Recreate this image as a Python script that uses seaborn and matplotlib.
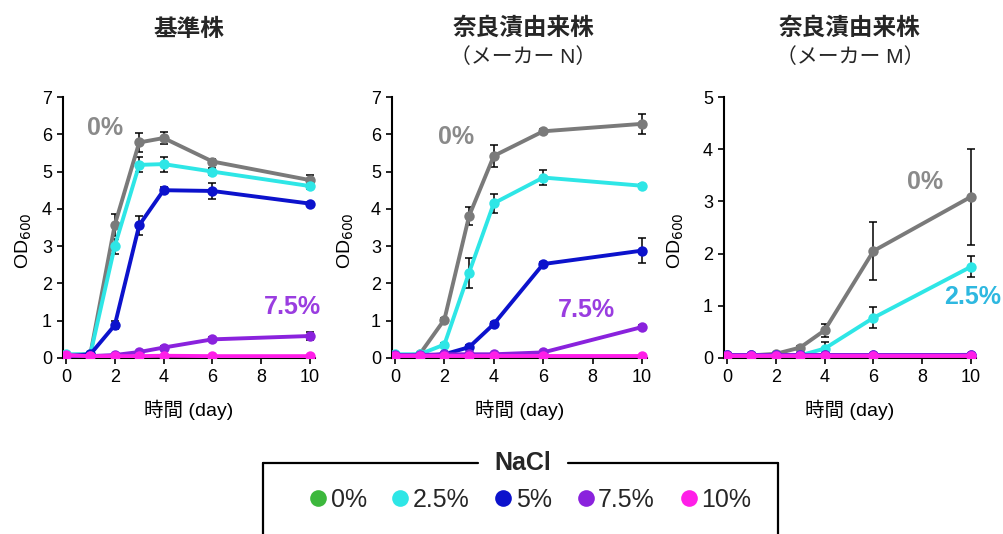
import numpy as np
import pandas as pd
import seaborn as sns
import matplotlib
matplotlib.use("Agg")
import matplotlib.pyplot as plt
from matplotlib.lines import Line2D

# Sampling times (days)
time_days = [0, 1, 2, 3, 4, 6, 10]
nacl_levels = ["0%", "2.5%", "5%", "7.5%", "10%"]

# --- Reference strain: mean OD600 and SD per NaCl level ---
ref_0 = [0.08, 0.10, 3.57, 5.78, 5.90, 5.27, 4.77]
ref_25 = [0.10, 0.10, 3.00, 5.18, 5.20, 5.00, 4.61]
ref_5 = [0.05, 0.10, 0.88, 3.56, 4.50, 4.48, 4.14]
ref_75 = [0.05, 0.05, 0.08, 0.16, 0.28, 0.50, 0.59]
ref_10 = [0.08, 0.05, 0.05, 0.05, 0.06, 0.05, 0.05]
ref_0_sd = [0, 0, 0.30, 0.25, 0.15, 0.08, 0.15]
ref_25_sd = [0, 0, 0.20, 0.20, 0.20, 0.10, 0.08]
ref_5_sd = [0, 0, 0.10, 0.25, 0.08, 0.22, 0.05]
ref_75_sd = [0, 0, 0, 0, 0.03, 0.05, 0.12]
ref_10_sd = [0, 0, 0, 0, 0, 0, 0]

# --- Narazuke isolate (maker N) ---
n_0 = [0.05, 0.10, 1.03, 3.81, 5.42, 6.08, 6.28]
n_25 = [0.10, 0.10, 0.36, 2.29, 4.15, 4.84, 4.62]
n_5 = [0.05, 0.05, 0.10, 0.29, 0.91, 2.52, 2.88]
n_75 = [0.08, 0.08, 0.10, 0.10, 0.10, 0.15, 0.83]
n_10 = [0.05, 0.05, 0.05, 0.05, 0.05, 0.05, 0.05]
n_0_sd = [0, 0, 0.05, 0.25, 0.30, 0.05, 0.27]
n_25_sd = [0, 0, 0.05, 0.40, 0.25, 0.20, 0.05]
n_5_sd = [0, 0, 0, 0.05, 0.05, 0.05, 0.33]
n_75_sd = [0, 0, 0, 0, 0, 0, 0.05]
n_10_sd = [0, 0, 0, 0, 0, 0, 0]

# --- Narazuke isolate (maker M) ---
m_0 = [0.05, 0.05, 0.08, 0.20, 0.53, 2.05, 3.09]
m_25 = [0.05, 0.05, 0.05, 0.05, 0.18, 0.77, 1.75]
m_5 = [0.05, 0.05, 0.05, 0.05, 0.05, 0.05, 0.06]
m_75 = [0.05, 0.05, 0.05, 0.05, 0.05, 0.05, 0.05]
m_10 = [0.04, 0.04, 0.04, 0.04, 0.04, 0.04, 0.04]
m_0_sd = [0, 0, 0, 0.03, 0.12, 0.55, 0.92]
m_25_sd = [0, 0, 0, 0, 0.12, 0.20, 0.20]
m_5_sd = [0, 0, 0, 0, 0, 0, 0]
m_75_sd = [0, 0, 0, 0, 0, 0, 0]
m_10_sd = [0, 0, 0, 0, 0, 0, 0]

panel_titles = ["基準株", "奈良漬由来株", "奈良漬由来株"]
panel_subtitles = ["", "（メーカー N）", "（メーカー M）"]
panel_ymax = [7, 7, 5]

panel_means = [
    [ref_0, ref_25, ref_5, ref_75, ref_10],
    [n_0, n_25, n_5, n_75, n_10],
    [m_0, m_25, m_5, m_75, m_10],
]
panel_sds = [
    [ref_0_sd, ref_25_sd, ref_5_sd, ref_75_sd, ref_10_sd],
    [n_0_sd, n_25_sd, n_5_sd, n_75_sd, n_10_sd],
    [m_0_sd, m_25_sd, m_5_sd, m_75_sd, m_10_sd],
]

# In-plot labels: (text, x, y, colour)
panel_notes = [
    [("0%", 1.6, 6.17, "#8a8a8a"), ("7.5%", 9.27, 1.37, "#9a3de0")],
    [("0%", 2.48, 5.93, "#8a8a8a"), ("7.5%", 7.76, 1.29, "#9a3de0")],
    [("0%", 8.1, 3.37, "#8a8a8a"), ("2.5%", 10.08, 1.17, "#2eb8e0")],
]

line_colors = ["#7a7a7a", "#2ee6e6", "#0c12cc", "#8a22dd", "#ff1ee8"]
legend_colors = ["#3cb83c", "#2ee6e6", "#0c12cc", "#8a22dd", "#ff1ee8"]

sns.set_theme(style="ticks")
plt.rcParams["font.family"] = ["Liberation Sans", "Noto Sans CJK JP", "DejaVu Sans"]

fig = plt.figure(figsize=(10.04, 5.34), dpi=100)
W, H = 1004, 534
axes_px = [(63, 252), (392, 255), (724, 252)]   # (left, width) in pixels
ylabel_x = [-0.115, -0.14, -0.15]
ax_bottom, ax_top = 358, 97

for i, (left, width) in enumerate(axes_px):
    ax = fig.add_axes([left / W, 1 - ax_bottom / H, width / W, (ax_bottom - ax_top) / H])

    rows = []
    for lvl, series in zip(nacl_levels, panel_means[i]):
        for t, v in zip(time_days, series):
            rows.append({"time": t, "od": v, "nacl": lvl})
    df = pd.DataFrame(rows)

    for lvl, series, sd in zip(nacl_levels, panel_means[i], panel_sds[i]):
        ax.errorbar(time_days, series, yerr=sd, fmt="none", ecolor="black",
                    elinewidth=1.1, capsize=3, capthick=1.1, zorder=1)

    sns.lineplot(data=df, x="time", y="od", hue="nacl", hue_order=nacl_levels,
                 palette=line_colors, marker="o", markersize=7.5,
                 markeredgewidth=0, linewidth=2.8, legend=False,
                 errorbar=None, ax=ax, zorder=3)

    ax.set_xlim(-0.12, 10.2)
    ax.set_ylim(0, panel_ymax[i])
    ax.set_xticks([0, 2, 4, 6, 8, 10])
    ax.set_yticks(range(0, panel_ymax[i] + 1))
    ax.tick_params(axis="both", labelsize=13, colors="black", length=4,
                   width=1.2, direction="out", pad=4)
    for s in ("top", "right"):
        ax.spines[s].set_visible(False)
    for s in ("left", "bottom"):
        ax.spines[s].set_color("black")
        ax.spines[s].set_linewidth(1.5)

    ax.set_xlabel("時間 (day)", fontsize=14, color="black")
    ax.xaxis.set_label_coords(0.5, -0.16)
    ax.set_ylabel(r"OD$_{600}$", fontsize=14, color="black")
    ax.yaxis.set_label_coords(ylabel_x[i], 0.45)

    for text, x, y, c in panel_notes[i]:
        ax.text(x, y, text, color=c, fontsize=18, fontweight="bold",
                ha="center", va="center", clip_on=False)

    cx = (left + width / 2 + (4 if i == 1 else 0)) / W
    if panel_subtitles[i]:
        fig.text(cx, 1 - 28 / H, panel_titles[i], fontsize=17, fontweight="bold",
                 ha="center", va="center")
        fig.text(cx, 1 - 57 / H, panel_subtitles[i], fontsize=15,
                 ha="center", va="center")
    else:
        fig.text(cx, 1 - 30 / H, panel_titles[i], fontsize=17, fontweight="bold",
                 ha="center", va="center")

# Legend frame with the title set into the top edge
box_l, box_r, box_t = 263 / W, 778 / W, 1 - 463 / H
gap_l, gap_r = 478 / W, 568 / W
frame_kw = dict(color="black", linewidth=1.6, transform=fig.transFigure)
fig.add_artist(Line2D([box_l, gap_l], [box_t, box_t], **frame_kw))
fig.add_artist(Line2D([gap_r, box_r], [box_t, box_t], **frame_kw))
fig.add_artist(Line2D([box_l, box_l], [box_t, -0.05], **frame_kw))
fig.add_artist(Line2D([box_r, box_r], [box_t, -0.05], **frame_kw))
fig.text(523 / W, box_t, "NaCl", fontsize=18, fontweight="bold",
         ha="center", va="center")

handles = [Line2D([], [], marker="o", linestyle="", color=c, markersize=12,
                  markeredgewidth=0) for c in legend_colors]
fig.legend(handles, nacl_levels, loc="center", bbox_to_anchor=(529 / W, 1 - 500 / H),
           ncol=5, frameon=False, fontsize=18, handletextpad=0.05,
           columnspacing=0.9, handlelength=0.9, borderpad=0)

fig.savefig("out.png", dpi=100)
